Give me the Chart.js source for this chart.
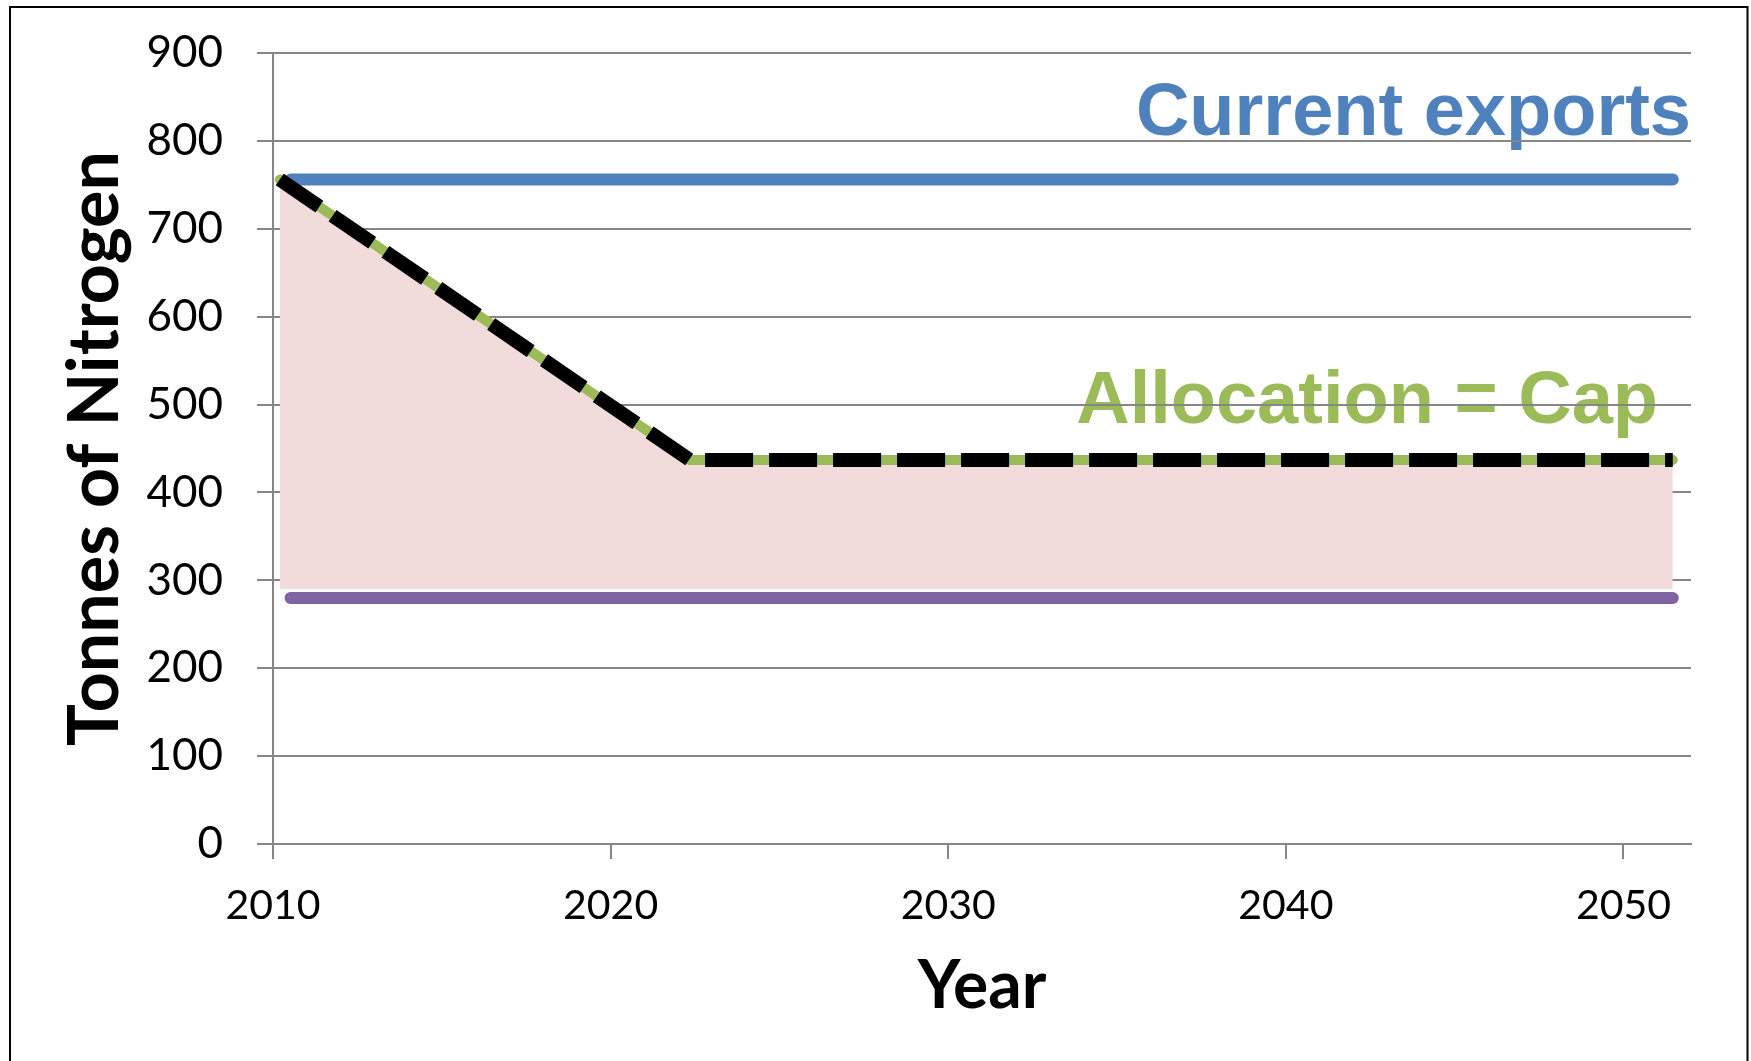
<!DOCTYPE html>
<html>
<head>
<meta charset="utf-8">
<script src="https://cdn.jsdelivr.net/npm/chart.js@4.4.1/dist/chart.umd.min.js"></script>
<style>
  html, body { margin: 0; padding: 0; background: #ffffff; }
  canvas { display: block; }
</style>
</head>
<body>
<canvas id="chart" width="1751" height="1061"></canvas>
<script>
// Nitrogen export cap: allocation path, current exports and lower bound
const allocationYears = [2010.2, 2022.35, 2051.46];
const allocationValues = [756, 437, 437];

const flatYears = [2010.52, 2051.46];
const currentExports = [756, 756];
const lowerBound = [280, 280];

const bandYears = [2010.2, 2022.35, 2051.46];
const bandTop = [756, 437, 437];
const bandBase = 290;

const xTickValues = [2010, 2020, 2030, 2040, 2050];
const yTickValues = [0, 100, 200, 300, 400, 500, 600, 700, 800, 900];

const xLabel = 'Year';
const yLabel = 'Tonnes of Nitrogen';
const exportsLabel = 'Current exports';
const capLabel = 'Allocation = Cap';

const GRID = '#868686';
const points = (xs, ys) => xs.map((x, i) => ({ x: x, y: ys[i] }));

// Large series captions and the outer frame
const decorations = {
  id: 'decorations',
  beforeDraw(chart) {
    const ctx = chart.ctx;
    ctx.save();
    ctx.font = 'bold 74px "Liberation Sans", Arial, sans-serif';
    ctx.textAlign = 'right';
    ctx.textBaseline = 'alphabetic';
    ctx.fillStyle = '#4F81BD';
    ctx.fillText(exportsLabel, 1691, 135);
    ctx.fillStyle = '#9BBB59';
    ctx.fillText(capLabel, 1658, 423);
    ctx.restore();
  },
  afterDraw(chart) {
    const ctx = chart.ctx;
    ctx.save();
    ctx.strokeStyle = '#000000';
    ctx.lineWidth = 2;
    ctx.strokeRect(10, 7, 1737.5, 1100);
    ctx.restore();
  }
};

new Chart(document.getElementById('chart'), {
  type: 'line',
  data: {
    datasets: [
      {
        label: 'Allocation dashed',
        data: points(allocationYears, allocationValues),
        borderColor: '#000000',
        borderWidth: 14,
        borderDash: [48, 16],
        borderCapStyle: 'butt',
        borderJoinStyle: 'bevel',
        pointRadius: 0,
        fill: false,
        order: 0
      },
      {
        label: capLabel,
        data: points(allocationYears, allocationValues),
        borderColor: '#9BBB59',
        borderWidth: 10,
        borderCapStyle: 'round',
        pointRadius: 0,
        fill: false,
        order: 1
      },
      {
        label: exportsLabel,
        data: points(flatYears, currentExports),
        borderColor: '#4F81BD',
        borderWidth: 12,
        borderCapStyle: 'round',
        pointRadius: 0,
        fill: false,
        order: 2
      },
      {
        label: 'Lower bound',
        data: points(flatYears, lowerBound),
        borderColor: '#8064A2',
        borderWidth: 12,
        borderCapStyle: 'round',
        pointRadius: 0,
        fill: false,
        order: 3
      },
      {
        label: 'Band',
        data: points(bandYears, bandTop),
        borderColor: 'rgba(0,0,0,0)',
        borderWidth: 0,
        backgroundColor: '#F2DCDB',
        pointRadius: 0,
        fill: { value: bandBase },
        order: 4
      }
    ]
  },
  options: {
    responsive: false,
    animation: false,
    events: [],
    layout: { padding: { top: 53, right: 60, left: 0, bottom: 0 } },
    plugins: {
      legend: { display: false },
      tooltip: { enabled: false },
      title: { display: false }
    },
    scales: {
      x: {
        type: 'linear',
        min: 2010,
        max: 2052,
        afterBuildTicks(scale) { scale.ticks = xTickValues.map(v => ({ value: v })); },
        afterFit(scale) { scale.height = 217; },
        ticks: {
          autoSkip: false,
          maxRotation: 0,
          padding: 22,
          color: '#000000',
          font: { family: 'Lato', size: 41, lineHeight: 1.2 },
          callback: v => String(v)
        },
        grid: {
          drawOnChartArea: false,
          drawTicks: true,
          tickLength: 15,
          color: GRID,
          lineWidth: 2
        },
        border: { display: true, color: GRID, width: 2 },
        title: {
          display: true,
          text: xLabel,
          color: '#000000',
          font: { family: 'Lato', weight: 'bold', size: 66, lineHeight: 1 },
          padding: { top: 0, bottom: 41 }
        }
      },
      y: {
        type: 'linear',
        min: 0,
        max: 900,
        afterBuildTicks(scale) { scale.ticks = yTickValues.map(v => ({ value: v })); },
        afterFit(scale) {
          scale.width = 273;
          scale.paddingTop = 0;
          scale.paddingBottom = 0;
        },
        ticks: {
          padding: 34,
          color: '#000000',
          font: { family: 'Lato', size: 44, lineHeight: 1.2 },
          callback: v => String(v)
        },
        grid: {
          drawTicks: true,
          tickLength: 16,
          color: GRID,
          lineWidth: 2
        },
        border: { display: true, color: GRID, width: 2 },
        title: {
          display: true,
          text: yLabel,
          color: '#000000',
          font: { family: 'Lato', weight: 'bold', size: 70, lineHeight: 1 },
          padding: { top: 60, bottom: 0 }
        }
      }
    }
  },
  plugins: [decorations]
});
</script>
</body>
</html>
